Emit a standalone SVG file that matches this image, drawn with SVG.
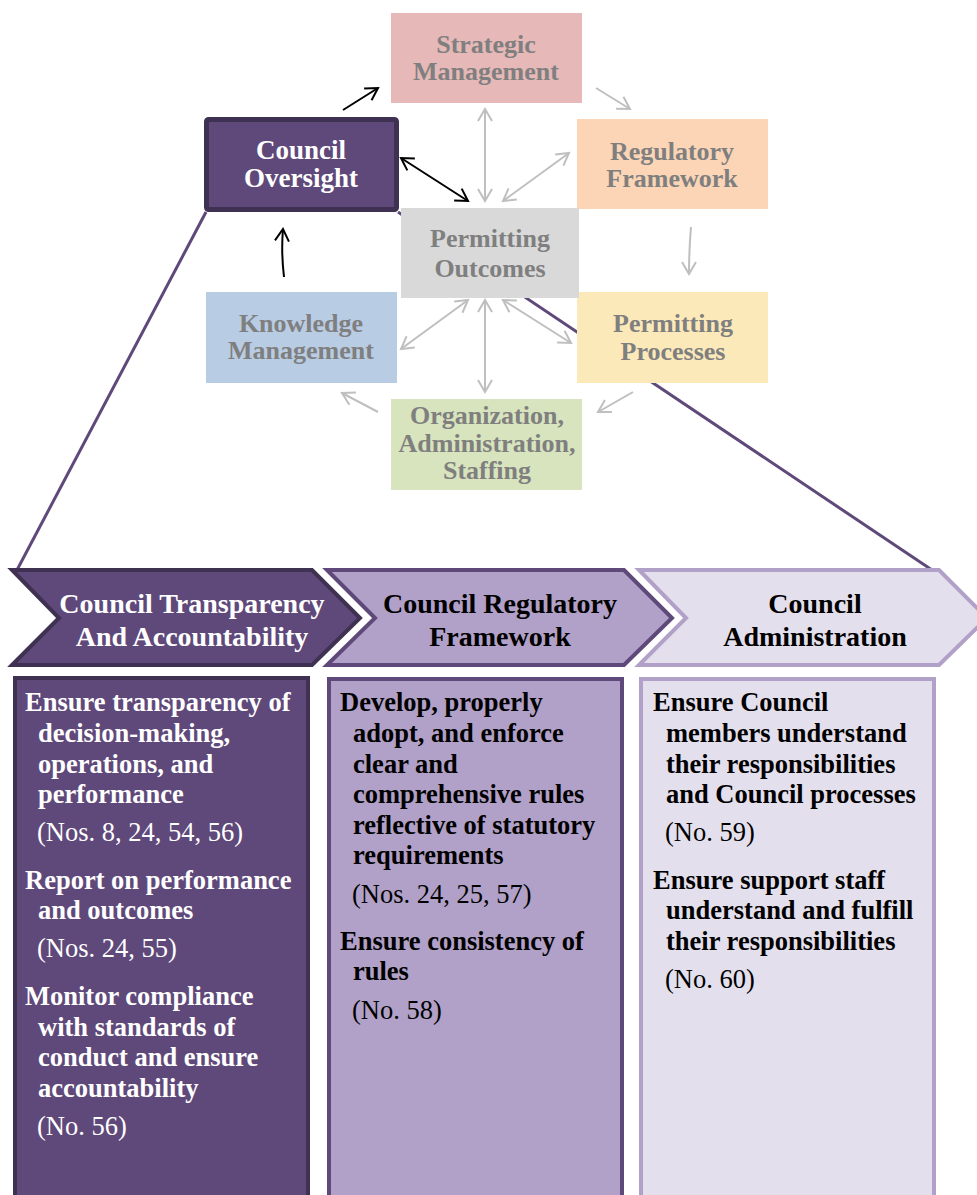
<svg xmlns="http://www.w3.org/2000/svg" width="977" height="1195" viewBox="0 0 977 1195">
  <defs>
    <style>
      text { font-family: "Liberation Serif", "Times New Roman", serif; }
      .lbl { font-size: 26px; font-weight: bold; fill: #7f7f7f; text-anchor: middle; }
      .co { font-size: 27px; font-weight: bold; fill: #ffffff; text-anchor: middle; }
      .chev { font-size: 28px; font-weight: bold; text-anchor: middle; }
      .item { font-size: 26.5px; font-weight: bold; }
      .ref { font-size: 26.5px; font-weight: normal; }
      .white { fill: #ffffff; }
      .black { fill: #000000; }
      .gray { fill: none; stroke: #bfbfbf; stroke-width: 2; }
      .blk { fill: none; stroke: #000000; stroke-width: 2; }
      .zoom { fill: none; stroke: #5f497a; stroke-width: 3; }
    </style>
    <marker id="headGray" markerUnits="userSpaceOnUse" markerWidth="18" markerHeight="18" refX="14" refY="8" orient="auto-start-reverse">
      <path d="M2,1 L14,8 L2,15" fill="none" stroke="#bfbfbf" stroke-width="2"/>
    </marker>
    <marker id="headBlack" markerUnits="userSpaceOnUse" markerWidth="18" markerHeight="18" refX="14" refY="8" orient="auto-start-reverse">
      <path d="M2,1 L14,8 L2,15" fill="none" stroke="#000000" stroke-width="2"/>
    </marker>
  </defs>

  <rect width="977" height="1195" fill="#ffffff"/>

  <!-- expansion lines from Council Oversight down to the phase row -->
  <g id="zoom-lines">
    <line class="zoom" x1="206" y1="212" x2="17" y2="570"/>
    <line class="zoom" x1="398" y1="212" x2="932" y2="570"/>
  </g>

  <!-- cycle nodes -->
  <g id="strategic-management">
    <rect x="391" y="13" width="191" height="90" fill="#e6b8b7"/>
    <text class="lbl" x="486" y="53">Strategic</text>
    <text class="lbl" x="486" y="80">Management</text>
  </g>
  <g id="regulatory-framework">
    <rect x="577" y="119" width="191" height="90" fill="#fbd5b5"/>
    <text class="lbl" x="672" y="160">Regulatory</text>
    <text class="lbl" x="672" y="187">Framework</text>
  </g>
  <g id="permitting-processes">
    <rect x="577" y="292" width="191" height="91" fill="#fbe9b9"/>
    <text class="lbl" x="673" y="332">Permitting</text>
    <text class="lbl" x="673" y="360">Processes</text>
  </g>
  <g id="organization-administration-staffing">
    <rect x="391" y="399" width="191" height="91" fill="#d7e4bd"/>
    <text class="lbl" x="487" y="424">Organization,</text>
    <text class="lbl" x="487" y="452">Administration,</text>
    <text class="lbl" x="487" y="479">Staffing</text>
  </g>
  <g id="knowledge-management">
    <rect x="206" y="292" width="191" height="91" fill="#b8cce4"/>
    <text class="lbl" x="301" y="332">Knowledge</text>
    <text class="lbl" x="301" y="359">Management</text>
  </g>
  <g id="permitting-outcomes">
    <rect x="401" y="208" width="178" height="90" fill="#d9d9d9"/>
    <text class="lbl" x="490" y="247">Permitting</text>
    <text class="lbl" x="490" y="277">Outcomes</text>
  </g>
  <g id="council-oversight">
    <rect x="206.5" y="119.5" width="190" height="90" rx="2" fill="#5f497a" stroke="#3f3151" stroke-width="5"/>
    <text class="co" x="301" y="159">Council</text>
    <text class="co" x="301" y="187">Oversight</text>
  </g>

  <!-- cycle connectors -->
  <g id="connectors">
    <path class="gray" d="M596,88 L630,109" marker-end="url(#headGray)"/>
    <path class="gray" d="M691,227 Q689,250 689,274" marker-end="url(#headGray)"/>
    <path class="gray" d="M633,392 L598,412" marker-end="url(#headGray)"/>
    <path class="gray" d="M378,412 L342,393" marker-end="url(#headGray)"/>
    <path class="gray" d="M485,109 L485,201" marker-start="url(#headGray)" marker-end="url(#headGray)"/>
    <path class="gray" d="M569,153 L503,201" marker-start="url(#headGray)" marker-end="url(#headGray)"/>
    <path class="gray" d="M468,300 L401,349" marker-start="url(#headGray)" marker-end="url(#headGray)"/>
    <path class="gray" d="M485,300 L485,392" marker-start="url(#headGray)" marker-end="url(#headGray)"/>
    <path class="gray" d="M503,300 L571,343" marker-start="url(#headGray)" marker-end="url(#headGray)"/>
    <path class="blk" d="M284,277 Q281,252 283,229" marker-end="url(#headBlack)"/>
    <path class="blk" d="M343,110 L378,88" marker-end="url(#headBlack)"/>
    <path class="blk" d="M401,158 L468,201" marker-start="url(#headBlack)" marker-end="url(#headBlack)"/>
  </g>

  <!-- phase chevrons -->
  <g id="chevron-transparency">
    <path d="M12,570 L312,570 L360,618 L312,665 L12,665 L59,618 Z" fill="#5f497a" stroke="#3f3151" stroke-width="4" stroke-linejoin="miter"/>
    <text class="chev white" x="192" y="613">Council Transparency</text>
    <text class="chev white" x="192" y="646">And Accountability</text>
  </g>
  <g id="chevron-regulatory">
    <path d="M327,570 L624,570 L672,618 L624,665 L327,665 L375,618 Z" fill="#b1a0c7" stroke="#5f497a" stroke-width="4"/>
    <text class="chev black" x="500" y="613">Council Regulatory</text>
    <text class="chev black" x="500" y="646">Framework</text>
  </g>
  <g id="chevron-administration">
    <path d="M639,570 L939,570 L987,618 L939,665 L639,665 L686,618 Z" fill="#e4dfec" stroke="#b1a0c7" stroke-width="4"/>
    <text class="chev black" x="815" y="613">Council</text>
    <text class="chev black" x="815" y="646">Administration</text>
  </g>

  <!-- phase detail columns -->
  <g id="column-transparency">
    <rect x="15" y="678" width="293" height="540" fill="#5f497a" stroke="#3f3151" stroke-width="4"/>
    <text class="item white" x="25" y="711">Ensure transparency of</text>
    <text class="item white" x="38" y="742">decision-making,</text>
    <text class="item white" x="38" y="773">operations, and</text>
    <text class="item white" x="38" y="803">performance</text>
    <text class="ref white" x="37" y="841">(Nos. 8, 24, 54, 56)</text>
    <text class="item white" x="25" y="889">Report on performance</text>
    <text class="item white" x="38" y="919">and outcomes</text>
    <text class="ref white" x="37" y="957">(Nos. 24, 55)</text>
    <text class="item white" x="25" y="1005">Monitor compliance</text>
    <text class="item white" x="38" y="1036">with standards of</text>
    <text class="item white" x="38" y="1066">conduct and ensure</text>
    <text class="item white" x="38" y="1097">accountability</text>
    <text class="ref white" x="37" y="1135">(No. 56)</text>
  </g>
  <g id="column-regulatory">
    <rect x="329" y="679" width="293" height="540" fill="#b1a0c7" stroke="#5f497a" stroke-width="4"/>
    <text class="item black" x="340" y="711">Develop, properly</text>
    <text class="item black" x="353" y="742">adopt, and enforce</text>
    <text class="item black" x="353" y="773">clear and</text>
    <text class="item black" x="353" y="803">comprehensive rules</text>
    <text class="item black" x="353" y="834">reflective of statutory</text>
    <text class="item black" x="353" y="864">requirements</text>
    <text class="ref black" x="352" y="903">(Nos. 24, 25, 57)</text>
    <text class="item black" x="340" y="950">Ensure consistency of</text>
    <text class="item black" x="353" y="980">rules</text>
    <text class="ref black" x="352" y="1019">(No. 58)</text>
  </g>
  <g id="column-administration">
    <rect x="641" y="679" width="293" height="540" fill="#e4dfec" stroke="#b1a0c7" stroke-width="4"/>
    <text class="item black" x="653" y="711">Ensure Council</text>
    <text class="item black" x="666" y="742">members understand</text>
    <text class="item black" x="666" y="773">their responsibilities</text>
    <text class="item black" x="666" y="803">and Council processes</text>
    <text class="ref black" x="665" y="841">(No. 59)</text>
    <text class="item black" x="653" y="889">Ensure support staff</text>
    <text class="item black" x="666" y="919">understand and fulfill</text>
    <text class="item black" x="666" y="950">their responsibilities</text>
    <text class="ref black" x="665" y="988">(No. 60)</text>
  </g>
</svg>
